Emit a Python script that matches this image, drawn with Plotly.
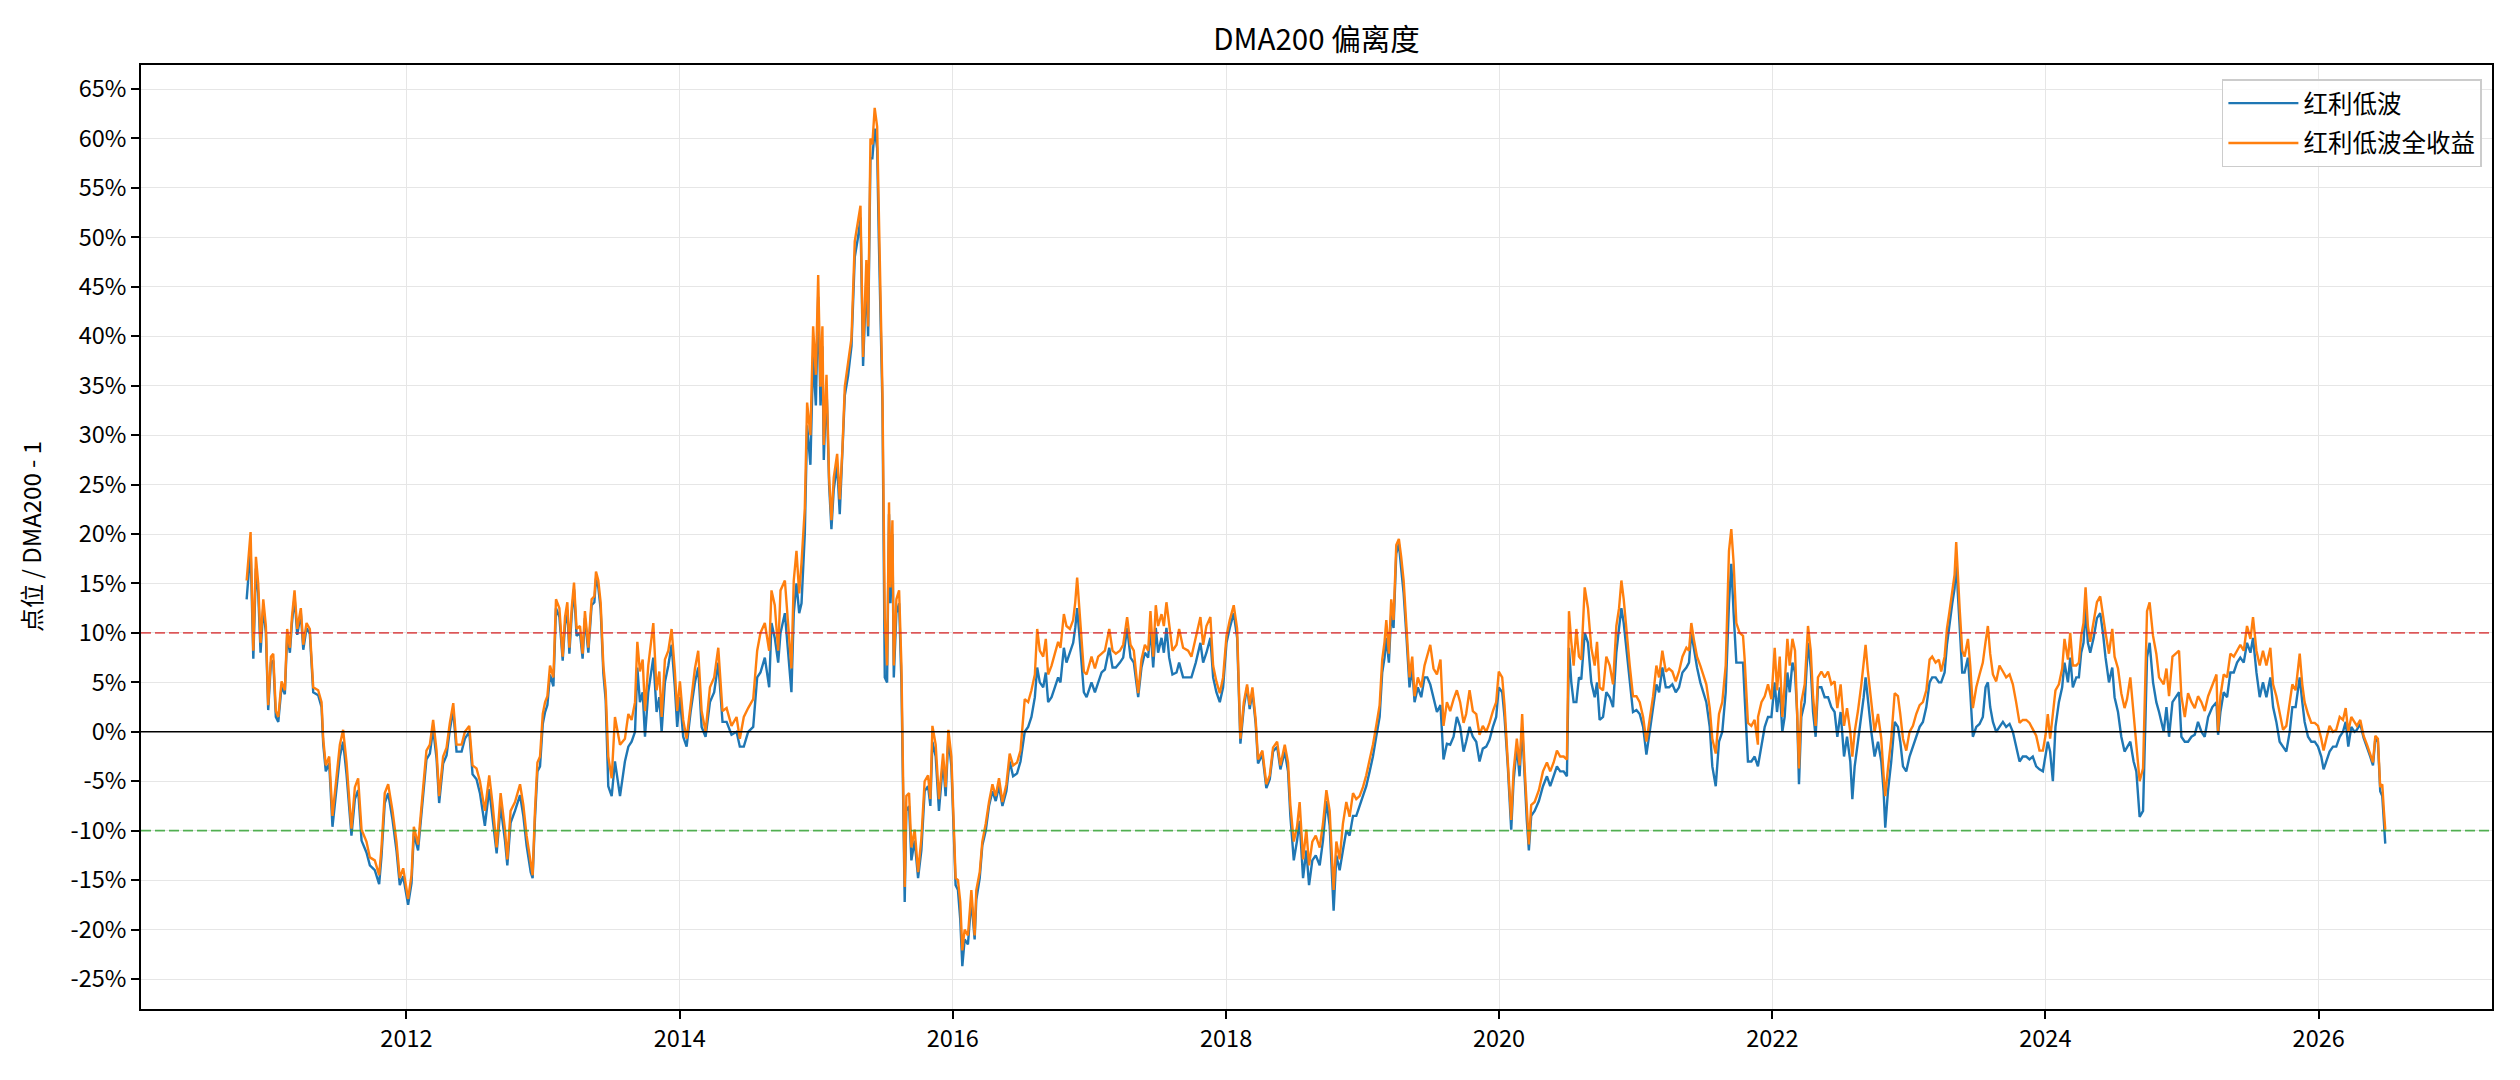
import pandas as pd
import plotly.graph_objects as go

# ---------------- data (decimal years, values in %) ----------------
# segment 2010-11 .. 2013-02
t_a = [2010.829, 2010.858, 2010.878, 2010.897, 2010.914, 2010.931, 2010.951, 2010.970, 2010.987, 2011.007,
       2011.024, 2011.043, 2011.061, 2011.085, 2011.109, 2011.126, 2011.146, 2011.161, 2011.180, 2011.200,
       2011.226, 2011.244, 2011.268, 2011.292, 2011.317, 2011.353, 2011.378, 2011.390, 2011.409, 2011.434,
       2011.458, 2011.488, 2011.512, 2011.536, 2011.561, 2011.597, 2011.622, 2011.646, 2011.671, 2011.707,
       2011.732, 2011.768, 2011.800, 2011.817, 2011.841, 2011.866, 2011.898, 2011.927, 2011.951, 2011.976,
       2012.012, 2012.037, 2012.054, 2012.085, 2012.117, 2012.146, 2012.171, 2012.195, 2012.220, 2012.239,
       2012.268, 2012.293, 2012.317, 2012.342, 2012.366, 2012.403, 2012.427, 2012.459, 2012.483, 2012.512,
       2012.537, 2012.573, 2012.605, 2012.630, 2012.659, 2012.688, 2012.720, 2012.737, 2012.761, 2012.793,
       2012.830, 2012.854, 2012.878, 2012.908, 2012.922, 2012.939, 2012.957, 2012.976, 2012.996, 2013.013,
       2013.030, 2013.049, 2013.074, 2013.093]
o_a = [15.3, 20.2, 8.2, 17.7, 15.0, 9.0, 13.4, 10.7, 2.7, 7.6,
       7.9, 2.1, 1.5, 5.1, 4.2, 10.4, 8.5, 11.6, 14.3, 10.4,
       12.5, 8.8, 11.0, 10.4, 4.5, 4.2, 3.0, -0.7, -3.4, -2.5,
       -8.5, -4.7, -1.3, 0.2, -3.1, -9.8, -5.6, -4.7, -9.9, -11.1,
       -12.7, -13.0, -14.5, -11.7, -6.2, -5.3, -8.0, -11.1, -14.8, -13.8,
       -16.9, -14.5, -9.6, -11.4, -6.5, -1.9, -1.3, 1.2, -1.9, -6.5,
       -2.5, -1.6, 0.9, 2.9, -1.3, -1.3, 0.0, 0.6, -3.4, -3.7,
       -5.0, -8.0, -4.4, -7.4, -11.7, -6.2, -9.9, -12.9, -8.0, -7.1,
       -5.3, -7.4, -10.5, -13.5, -14.5, -8.0, -3.1, -2.5, 1.8, 3.0,
       3.6, 6.7, 5.5, 13.4]
b_a = [13.4, 18.5, 7.4, 16.5, 14.0, 8.0, 12.6, 10.0, 2.2, 7.0,
       7.2, 1.5, 1.0, 4.6, 3.8, 9.8, 8.0, 11.0, 13.6, 9.8,
       12.0, 8.3, 10.5, 9.9, 4.0, 3.7, 2.5, -1.2, -4.0, -3.2,
       -9.6, -5.8, -2.5, -1.0, -4.3, -10.5, -6.8, -5.9, -11.0, -12.2,
       -13.5, -14.0, -15.4, -12.6, -7.2, -6.2, -8.9, -12.0, -15.5, -14.6,
       -17.5, -15.3, -10.3, -12.0, -7.2, -2.8, -2.2, 0.3, -2.7, -7.2,
       -3.2, -2.4, 0.2, 2.2, -2.0, -2.0, -0.7, 0.0, -4.3, -4.8,
       -6.2, -9.5, -5.8, -8.8, -12.3, -7.5, -11.0, -13.5, -9.2, -8.0,
       -6.4, -8.5, -11.5, -14.2, -14.8, -8.8, -4.0, -3.5, 0.8, 2.0,
       2.7, 5.8, 4.6, 12.5]

# segment 2013-02 .. 2015-12
t_b = [2013.118, 2013.142, 2013.159, 2013.176, 2013.191, 2013.208, 2013.225, 2013.244, 2013.269, 2013.288,
       2013.305, 2013.330, 2013.354, 2013.374, 2013.386, 2013.403, 2013.420, 2013.440, 2013.457, 2013.476,
       2013.501, 2013.525, 2013.562, 2013.598, 2013.623, 2013.647, 2013.672, 2013.689, 2013.708, 2013.728,
       2013.745, 2013.769, 2013.789, 2013.806, 2013.830, 2013.850, 2013.867, 2013.891, 2013.916, 2013.940,
       2013.964, 2013.981, 2014.001, 2014.025, 2014.050, 2014.079, 2014.111, 2014.135, 2014.160, 2014.189,
       2014.221, 2014.252, 2014.282, 2014.313, 2014.343, 2014.379, 2014.416, 2014.440, 2014.469, 2014.501,
       2014.538, 2014.567, 2014.591, 2014.623, 2014.655, 2014.672, 2014.696, 2014.721, 2014.738, 2014.770,
       2014.794, 2014.818, 2014.835, 2014.855, 2014.875, 2014.892, 2014.916, 2014.933, 2014.957, 2014.977,
       2014.997, 2015.014, 2015.031, 2015.045, 2015.055, 2015.075, 2015.094, 2015.111, 2015.128, 2015.153,
       2015.172, 2015.192, 2015.209, 2015.233, 2015.258, 2015.282, 2015.306, 2015.324, 2015.343, 2015.367,
       2015.380, 2015.397, 2015.411, 2015.428, 2015.446, 2015.458, 2015.470, 2015.485, 2015.502, 2015.519,
       2015.533, 2015.543, 2015.558, 2015.568, 2015.587, 2015.607, 2015.624, 2015.648, 2015.660, 2015.680,
       2015.697, 2015.721, 2015.746, 2015.770, 2015.794, 2015.819, 2015.836, 2015.851, 2015.875, 2015.899,
       2015.929, 2015.948, 2015.968, 2015.990]
o_b = [12.5, 7.6, 11.6, 13.1, 8.5, 12.5, 15.1, 10.4, 10.7, 7.9,
       12.2, 8.5, 13.4, 13.7, 16.2, 15.3, 13.1, 6.7, 4.2, -2.5,
       -4.7, 1.5, -1.3, -0.7, 1.8, 1.2, 3.0, 9.1, 6.1, 7.3,
       2.1, 6.7, 9.1, 11.0, 4.2, 6.1, 1.5, 7.3, 8.2, 10.4,
       6.1, 2.1, 5.1, 1.2, -0.7, 3.0, 6.4, 8.2, 2.1, 0.0,
       4.5, 5.5, 8.5, 2.1, 2.4, 0.6, 1.5, -0.7, 1.5, 2.4,
       3.3, 8.2, 10.0, 11.0, 8.2, 14.3, 12.8, 8.2, 14.3, 15.3,
       11.0, 6.4, 15.3, 18.3, 14.0, 17.1, 22.6, 33.3, 30.0, 41.0,
       36.1, 46.2, 34.9, 41.0, 29.0, 36.1, 25.7, 21.4, 25.7, 28.1,
       23.5, 28.7, 34.9, 37.3, 39.8, 49.6, 51.7, 53.2, 37.9, 47.7,
       41.0, 60.0, 59.4, 63.1, 61.2, 52.0, 44.7, 34.3, 11.6, 6.7,
       23.2, 14.6, 21.4, 6.7, 13.4, 14.3, 6.7, -15.7, -6.5, -6.2,
       -11.7, -9.9, -14.2, -10.8, -5.0, -4.4, -6.8, 0.6, -1.3, -6.8,
       -2.2, -5.6, 0.2, -2.5]
b_b = [11.6, 7.2, 10.8, 12.3, 7.9, 11.8, 14.4, 9.7, 10.0, 7.4,
       11.5, 8.0, 12.8, 13.1, 15.5, 14.6, 12.4, 5.9, 3.2, -5.5,
       -6.5, -3.0, -6.5, -3.0, -1.5, -1.0, 0.0, 6.5, 3.0, 4.0,
       -0.5, 4.0, 6.0, 7.5, 2.0, 3.5, 0.0, 5.0, 6.7, 8.8,
       4.5, 0.5, 3.5, -0.5, -1.5, 2.0, 5.0, 6.5, 0.5, -0.5,
       3.0, 4.0, 7.0, 1.0, 1.0, -0.3, 0.0, -1.5, -1.5, 0.0,
       0.5, 5.5, 6.0, 7.5, 4.5, 11.0, 9.5, 7.0, 10.0, 12.0,
       8.0, 4.0, 12.0, 15.0, 12.0, 13.0, 20.0, 31.0, 27.0, 38.0,
       33.0, 44.0, 33.0, 39.0, 27.5, 35.0, 25.0, 20.5, 24.5, 27.0,
       22.0, 28.0, 34.0, 36.0, 39.0, 48.0, 50.0, 52.0, 37.0, 46.0,
       40.0, 58.0, 58.0, 61.0, 59.0, 50.0, 43.0, 33.0, 5.5, 5.0,
       22.0, 13.0, 20.0, 5.5, 12.0, 13.0, 5.0, -17.2, -8.0, -7.5,
       -13.0, -11.0, -14.8, -12.0, -6.0, -5.5, -7.5, -1.0, -2.5, -8.0,
       -3.0, -6.5, -0.5, -3.5]

# segment 2016-01 .. 2018-10
t_c = [2016.021, 2016.038, 2016.055, 2016.070, 2016.087, 2016.111, 2016.136, 2016.160, 2016.172, 2016.197,
       2016.216, 2016.241, 2016.265, 2016.290, 2016.314, 2016.338, 2016.363, 2016.392, 2016.416, 2016.441,
       2016.470, 2016.495, 2016.526, 2016.551, 2016.575, 2016.600, 2016.617, 2016.636, 2016.661, 2016.680,
       2016.697, 2016.722, 2016.746, 2016.770, 2016.787, 2016.812, 2016.831, 2016.856, 2016.880, 2016.895,
       2016.909, 2016.924, 2016.941, 2016.958, 2016.978, 2016.997, 2017.014, 2017.039, 2017.063, 2017.088,
       2017.112, 2017.144, 2017.168, 2017.192, 2017.222, 2017.246, 2017.275, 2017.300, 2017.324, 2017.356,
       2017.380, 2017.405, 2017.429, 2017.446, 2017.466, 2017.485, 2017.502, 2017.527, 2017.544, 2017.563,
       2017.583, 2017.607, 2017.637, 2017.656, 2017.685, 2017.722, 2017.746, 2017.778, 2017.812, 2017.832,
       2017.856, 2017.885, 2017.905, 2017.929, 2017.954, 2017.978, 2018.003, 2018.027, 2018.056, 2018.081,
       2018.095, 2018.105, 2018.130, 2018.154, 2018.173, 2018.193, 2018.217, 2018.234, 2018.266, 2018.295,
       2018.320, 2018.344, 2018.374, 2018.398, 2018.430, 2018.454, 2018.471, 2018.496, 2018.520, 2018.539,
       2018.564, 2018.588, 2018.608, 2018.632, 2018.657, 2018.686, 2018.710, 2018.735, 2018.759, 2018.788,
       2018.808, 2018.832]
o_c = [-14.8, -15.0, -17.2, -22.1, -20.0, -20.6, -16.0, -20.6, -16.0, -14.2,
       -11.1, -9.3, -7.1, -5.3, -6.5, -4.7, -7.1, -5.3, -2.2, -3.4,
       -3.1, -1.9, 3.3, 3.0, 4.2, 5.8, 10.4, 8.2, 7.6, 9.4,
       5.8, 6.7, 7.9, 9.1, 8.5, 11.9, 10.7, 10.4, 11.3, 13.1,
       15.6, 12.5, 9.4, 6.1, 5.8, 6.7, 7.6, 6.4, 7.6, 7.9,
       8.2, 10.4, 8.2, 7.9, 8.2, 8.8, 11.6, 8.8, 8.2, 3.9,
       7.3, 8.8, 8.2, 12.2, 7.6, 12.8, 10.7, 11.9, 10.7, 13.1,
       10.7, 8.2, 8.8, 10.4, 8.5, 8.2, 7.6, 9.4, 11.6, 8.8,
       10.7, 11.6, 6.7, 5.1, 3.9, 5.5, 9.7, 11.3, 12.8, 10.4,
       3.0, -0.7, 3.0, 4.8, 2.7, 4.5, 1.2, -2.8, -1.9, -5.3,
       -4.4, -1.6, -1.0, -3.4, -1.3, -3.1, -7.4, -11.1, -9.6, -7.1,
       -12.9, -9.9, -13.5, -11.1, -10.5, -11.7, -9.3, -5.9, -8.0, -16.0,
       -11.1, -12.9]
b_c = [-15.5, -16.0, -19.0, -23.7, -21.0, -21.5, -17.0, -21.0, -17.0, -14.8,
       -11.5, -10.0, -7.5, -6.0, -7.0, -5.5, -7.5, -6.0, -3.0, -4.5,
       -4.2, -3.0, 0.0, 0.5, 1.5, 3.5, 6.5, 5.0, 4.5, 6.0,
       3.0, 3.5, 4.5, 5.5, 5.0, 8.5, 7.0, 8.0, 9.0, 10.5,
       12.5, 10.0, 7.0, 4.0, 3.5, 4.2, 5.0, 4.0, 5.0, 6.0,
       6.3, 8.5, 6.5, 6.5, 7.0, 7.5, 10.5, 7.5, 7.0, 3.5,
       6.5, 8.0, 7.5, 10.5, 6.5, 10.5, 8.0, 9.5, 8.0, 10.5,
       7.5, 5.8, 6.0, 7.0, 5.5, 5.5, 5.5, 7.0, 9.0, 7.0,
       8.0, 9.5, 5.5, 4.0, 3.0, 4.5, 9.0, 10.5, 12.0, 9.5,
       2.5, -1.2, 2.5, 4.5, 2.3, 4.0, 0.8, -3.2, -2.3, -5.7,
       -4.8, -2.0, -1.5, -3.8, -2.0, -4.0, -8.5, -13.0, -11.0, -9.0,
       -14.8, -12.0, -15.5, -13.0, -12.5, -13.5, -11.0, -7.0, -9.5, -18.1,
       -12.5, -14.0]

# segment 2018-11 .. 2021-11
t_d = [2018.856, 2018.881, 2018.905, 2018.930, 2018.954, 2018.978, 2019.003, 2019.027, 2019.052, 2019.076,
       2019.100, 2019.125, 2019.144, 2019.161, 2019.174, 2019.193, 2019.210, 2019.227, 2019.247, 2019.266,
       2019.283, 2019.301, 2019.320, 2019.344, 2019.364, 2019.381, 2019.405, 2019.430, 2019.454, 2019.474,
       2019.496, 2019.520, 2019.545, 2019.571, 2019.593, 2019.618, 2019.642, 2019.667, 2019.691, 2019.715,
       2019.740, 2019.759, 2019.784, 2019.808, 2019.833, 2019.857, 2019.881, 2019.906, 2019.930, 2019.955,
       2019.979, 2019.998, 2020.023, 2020.040, 2020.064, 2020.089, 2020.106, 2020.130, 2020.150, 2020.169,
       2020.186, 2020.203, 2020.218, 2020.235, 2020.260, 2020.291, 2020.321, 2020.350, 2020.374, 2020.399,
       2020.423, 2020.447, 2020.472, 2020.496, 2020.511, 2020.528, 2020.545, 2020.565, 2020.584, 2020.601,
       2020.626, 2020.650, 2020.674, 2020.699, 2020.716, 2020.735, 2020.760, 2020.784, 2020.809, 2020.833,
       2020.857, 2020.877, 2020.894, 2020.911, 2020.931, 2020.955, 2020.979, 2021.004, 2021.028, 2021.053,
       2021.077, 2021.101, 2021.126, 2021.150, 2021.170, 2021.194, 2021.219, 2021.243, 2021.267, 2021.292,
       2021.316, 2021.341, 2021.370, 2021.389, 2021.406, 2021.424, 2021.448, 2021.472, 2021.497, 2021.516,
       2021.541, 2021.560, 2021.585, 2021.609, 2021.633, 2021.658, 2021.682, 2021.699, 2021.716, 2021.736,
       2021.760, 2021.785, 2021.797, 2021.821, 2021.846, 2021.870, 2021.894]
o_d = [-9.3, -7.1, -8.6, -6.2, -6.8, -6.5, -5.6, -4.4, -2.8, -1.3,
       0.6, 2.7, 7.3, 9.1, 11.3, 7.9, 13.4, 11.3, 18.9, 19.5,
       17.7, 15.3, 11.0, 5.5, 7.6, 3.6, 5.5, 4.5, 6.7, 7.6,
       8.8, 6.4, 5.8, 7.3, 0.6, 3.0, 2.1, 3.3, 4.2, 3.0,
       0.9, 1.8, 4.2, 2.1, 1.8, -0.3, 0.6, 0.0, 0.9, 2.1,
       3.0, 6.1, 5.5, 2.7, -2.5, -8.9, -4.0, -0.7, -3.4, 1.8,
       -3.4, -7.4, -11.4, -7.4, -7.1, -5.9, -4.0, -3.1, -4.0, -3.1,
       -1.9, -2.5, -2.5, -2.8, 12.2, 9.1, 6.7, 10.4, 7.6, 7.3,
       14.6, 12.5, 8.5, 6.7, 9.1, 4.5, 4.2, 7.6, 6.7, 4.8,
       10.7, 12.5, 15.3, 13.4, 10.0, 6.7, 3.6, 3.6, 3.0, 1.5,
       -1.0, 1.2, 3.6, 6.7, 5.5, 8.2, 6.1, 6.4, 6.1, 5.1,
       6.1, 7.6, 8.5, 8.2, 11.0, 9.4, 7.6, 6.7, 5.5, 4.8,
       2.4, -0.7, -2.2, 1.8, 3.0, 6.7, 18.3, 20.5, 17.1, 11.0,
       10.0, 9.7, 7.3, 0.9, 0.6, 1.2, -1.3]
b_d = [-12.0, -10.0, -10.5, -8.5, -8.5, -7.5, -6.5, -5.5, -4.0, -2.5,
       -0.5, 1.5, 6.0, 7.5, 9.5, 7.0, 12.0, 10.5, 18.0, 19.0,
       16.5, 14.0, 10.0, 4.5, 6.5, 3.0, 4.5, 3.5, 5.5, 5.5,
       4.8, 3.5, 2.0, 2.7, -2.8, -1.2, -1.3, -0.5, 1.5, 0.5,
       -2.0, -1.0, 0.5, -0.5, -1.0, -3.0, -1.7, -1.5, -0.8, 0.5,
       1.5, 4.5, 4.0, 1.5, -3.5, -9.9, -5.0, -1.5, -4.5, 0.5,
       -4.5, -9.0, -12.0, -8.5, -8.0, -7.0, -5.5, -4.5, -5.5, -4.5,
       -3.5, -4.0, -4.0, -4.5, 8.5, 5.0, 3.0, 3.0, 5.5, 5.3,
       10.0, 9.0, 5.0, 3.5, 5.0, 1.2, 1.5, 4.0, 3.5, 2.5,
       8.0, 10.5, 12.5, 11.0, 8.5, 5.0, 2.0, 2.2, 1.8, 0.5,
       -2.3, 0.0, 2.5, 4.8, 4.0, 6.5, 4.5, 4.5, 4.8, 4.0,
       4.5, 6.0, 6.5, 7.0, 10.0, 8.5, 6.5, 5.0, 3.8, 3.0,
       0.5, -3.5, -5.5, -1.0, 0.0, 4.0, 13.0, 17.0, 12.0, 7.0,
       7.0, 7.0, 3.5, -3.0, -3.0, -2.5, -3.5]

# segment 2021-11 .. 2024-10
t_e = [2021.895, 2021.920, 2021.944, 2021.968, 2021.993, 2022.017, 2022.034, 2022.054, 2022.073, 2022.090,
       2022.110, 2022.127, 2022.147, 2022.166, 2022.181, 2022.195, 2022.212, 2022.237, 2022.261, 2022.281,
       2022.298, 2022.317, 2022.334, 2022.359, 2022.383, 2022.408, 2022.432, 2022.456, 2022.476, 2022.500,
       2022.525, 2022.547, 2022.571, 2022.586, 2022.603, 2022.627, 2022.652, 2022.669, 2022.683, 2022.700,
       2022.725, 2022.749, 2022.774, 2022.798, 2022.815, 2022.827, 2022.847, 2022.871, 2022.896, 2022.920,
       2022.937, 2022.957, 2022.981, 2023.005, 2023.030, 2023.054, 2023.079, 2023.103, 2023.128, 2023.152,
       2023.171, 2023.196, 2023.220, 2023.237, 2023.262, 2023.279, 2023.298, 2023.318, 2023.335, 2023.347,
       2023.359, 2023.372, 2023.391, 2023.408, 2023.433, 2023.450, 2023.469, 2023.494, 2023.518, 2023.542,
       2023.562, 2023.579, 2023.596, 2023.616, 2023.640, 2023.664, 2023.689, 2023.713, 2023.738, 2023.762,
       2023.786, 2023.811, 2023.835, 2023.860, 2023.884, 2023.908, 2023.933, 2023.957, 2023.982, 2024.001,
       2024.018, 2024.035, 2024.055, 2024.074, 2024.099, 2024.123, 2024.140, 2024.165, 2024.182, 2024.201,
       2024.226, 2024.245, 2024.262, 2024.279, 2024.294, 2024.311, 2024.328, 2024.353, 2024.377, 2024.401,
       2024.421, 2024.440, 2024.465, 2024.489, 2024.506, 2024.531, 2024.555, 2024.579, 2024.597, 2024.621,
       2024.645, 2024.665, 2024.689, 2024.714, 2024.733, 2024.743, 2024.762, 2024.787, 2024.811, 2024.831]
o_e = [1.5, 3.0, 3.6, 4.8, 3.3, 8.5, 4.2, 7.6, 1.5, 4.8,
       9.4, 6.7, 9.4, 8.2, 3.0, -3.7, 3.0, 4.8, 10.7, 8.2,
       3.6, 0.6, 5.5, 6.1, 5.5, 6.1, 4.8, 5.1, 2.4, 4.8,
       0.6, 2.4, 0.0, -2.5, 0.0, 2.1, 4.8, 6.7, 8.8, 6.1,
       3.0, 0.0, 1.8, -0.7, -4.4, -6.5, -3.7, -0.7, 3.9, 3.6,
       1.8, -0.7, -1.9, 0.0, 0.6, 1.8, 2.7, 3.0, 4.2, 7.3,
       7.6, 7.0, 7.3, 6.1, 7.6, 10.4, 12.2, 14.0, 15.9, 19.2,
       15.3, 12.5, 8.2, 7.6, 9.4, 6.7, 2.4, 4.5, 5.8, 7.0,
       9.1, 10.7, 7.9, 5.8, 5.1, 6.7, 6.1, 5.5, 5.8, 4.8,
       3.0, 0.9, 1.2, 1.2, 0.9, 0.2, -0.4, -1.9, -1.9, -0.4,
       1.8, -0.7, 1.5, 4.2, 4.8, 6.4, 9.4, 7.3, 10.0, 6.7,
       6.7, 7.0, 9.7, 11.0, 14.6, 10.7, 9.1, 11.0, 13.1, 13.7,
       11.6, 10.0, 7.9, 10.4, 7.6, 6.4, 3.9, 2.4, 3.3, 5.5,
       1.8, -1.0, -5.0, -3.7, 6.1, 12.2, 13.1, 9.7, 7.9, 5.5]
b_e = [-3.5, -1.5, 0.5, 1.5, 1.5, 5.0, 2.0, 4.5, 0.0, 1.5,
       6.0, 4.0, 7.0, 6.0, 2.0, -5.3, 1.5, 3.0, 9.0, 6.5,
       2.0, -0.5, 4.5, 4.5, 3.5, 3.5, 2.5, 2.0, -0.5, 2.0,
       -2.5, -0.5, -3.0, -6.8, -3.5, -1.0, 1.5, 3.5, 5.5, 3.0,
       0.0, -2.5, -1.0, -3.0, -6.0, -9.7, -6.0, -3.0, 1.0, 0.5,
       -1.0, -3.5, -4.0, -2.5, -1.5, -0.5, 0.5, 1.0, 2.5, 5.0,
       5.5, 5.5, 5.0, 5.0, 6.0, 8.8, 11.0, 13.0, 14.5, 17.5,
       14.0, 11.0, 6.0, 6.0, 7.5, 4.0, -0.5, 0.5, 0.8, 1.5,
       4.5, 5.0, 2.5, 1.0, 0.0, 0.5, 1.0, 0.5, 0.8, 0.0,
       -1.5, -3.0, -2.5, -2.5, -2.8, -2.5, -3.5, -3.8, -4.0, -2.5,
       -1.0, -2.0, -5.0, 0.5, 3.0, 4.5, 7.0, 5.0, 7.5, 4.5,
       5.5, 5.5, 8.0, 9.0, 12.5, 9.0, 8.0, 9.5, 11.5, 12.0,
       10.0, 7.5, 5.0, 6.5, 3.5, 2.0, -0.5, -2.0, -1.5, -1.0,
       -3.0, -4.0, -8.6, -8.0, 2.0, 7.5, 9.0, 5.0, 3.0, 2.0]

# segment 2024-11 .. 2026-06
t_f = [2024.865, 2024.885, 2024.904, 2024.929, 2024.953, 2024.977, 2024.994, 2025.019, 2025.043, 2025.068,
       2025.092, 2025.116, 2025.141, 2025.165, 2025.190, 2025.221, 2025.251, 2025.263, 2025.280, 2025.304,
       2025.329, 2025.353, 2025.378, 2025.402, 2025.426, 2025.451, 2025.475, 2025.500, 2025.519, 2025.544,
       2025.568, 2025.592, 2025.617, 2025.646, 2025.666, 2025.690, 2025.714, 2025.739, 2025.763, 2025.788,
       2025.807, 2025.831, 2025.861, 2025.880, 2025.897, 2025.922, 2025.946, 2025.971, 2025.995, 2026.019,
       2026.036, 2026.056, 2026.080, 2026.105, 2026.129, 2026.154, 2026.178, 2026.198, 2026.217, 2026.239,
       2026.263, 2026.280, 2026.305, 2026.329, 2026.354, 2026.378, 2026.398, 2026.415, 2026.434, 2026.451,
       2026.466, 2026.478, 2026.488]
o_f = [4.8, 6.4, 3.6, 7.6, 7.9, 8.2, 3.6, 1.5, 3.9, 3.0,
       2.4, 3.6, 3.0, 2.1, 3.6, 4.8, 5.8, 0.0, 3.6, 5.8,
       5.5, 7.9, 7.6, 8.2, 8.8, 8.2, 10.7, 9.4, 11.6, 8.2,
       6.7, 8.2, 6.7, 8.5, 4.8, 3.6, 1.8, 0.2, 0.6, 3.0,
       4.8, 4.2, 7.9, 4.8, 3.0, 1.8, 0.9, 0.9, 0.6, -0.7,
       -1.9, -0.7, 0.6, 0.0, 0.2, 1.5, 1.2, 2.4, 0.0, 1.5,
       0.9, 0.6, 1.2, -0.4, -1.3, -2.2, -3.1, -0.4, -0.7, -5.6,
       -5.3, -8.0, -9.9]
b_f = [0.0, 2.5, -0.5, 3.0, 3.5, 4.0, -0.5, -1.0, -1.0, -0.5,
       -0.3, 1.0, 0.0, -0.5, 1.5, 2.5, 3.0, -0.3, 2.0, 4.0,
       3.5, 6.0, 6.0, 7.0, 7.5, 7.0, 9.0, 8.0, 9.5, 6.0,
       3.5, 5.0, 3.5, 5.5, 2.5, 1.0, -1.0, -1.5, -2.0, 0.0,
       2.5, 2.5, 5.5, 3.0, 1.0, -0.5, -1.0, -1.0, -1.5, -2.5,
       -3.8, -3.0, -2.0, -1.5, -1.5, -0.5, 0.0, 1.0, -1.5, 0.5,
       0.0, 0.2, 0.8, -0.6, -1.5, -2.5, -3.4, -0.7, -1.0, -6.0,
       -6.5, -9.5, -11.3]

year_dec = t_a + t_b + t_c + t_d + t_e + t_f
hongli_tr = o_a + o_b + o_c + o_d + o_e + o_f      # 红利低波全收益
hongli = b_a + b_b + b_c + b_d + b_e + b_f         # 红利低波
assert len(year_dec) == len(hongli_tr) == len(hongli)

upper_line = 10
lower_line = -10
y_ticks = list(range(-25, 70, 5))
tick_years = list(range(2012, 2028, 2))


def to_date(y):
    yr = int(y)
    start = pd.Timestamp(year=yr, month=1, day=1)
    end = pd.Timestamp(year=yr + 1, month=1, day=1)
    return start + (end - start) * (y - yr)


dates = [to_date(v) for v in year_dec]

FONT = "Noto Sans CJK SC"

fig = go.Figure()
fig.add_trace(go.Scatter(x=dates, y=hongli, mode="lines", name="红利低波",
                         legendgroup="g1",
                         line=dict(color="#1f77b4", width=2.4)))
fig.add_trace(go.Scatter(x=dates, y=hongli_tr, mode="lines", name="红利低波全收益",
                         legendgroup="g2",
                         line=dict(color="#ff7f0e", width=2.4)))

fig.add_hline(y=0, line=dict(color="black", width=1.6), layer="above")
fig.add_hline(y=upper_line, line=dict(color="rgba(214,39,40,0.75)", width=1.8, dash="10px,4px"), layer="above")
fig.add_hline(y=lower_line, line=dict(color="rgba(44,160,44,0.8)", width=1.8, dash="10px,4px"), layer="above")

fig.update_layout(
    width=2520, height=1080,
    margin=dict(l=141, r=28, t=65, b=71),
    paper_bgcolor="white", plot_bgcolor="white",
    font=dict(family=FONT, size=23, color="black"),
    title=dict(text="DMA200 偏离度", x=0.5, xref="paper", xanchor="center",
               y=1 - 40 / 1080, yref="container", yanchor="middle",
               font=dict(family=FONT, size=29.5, color="black")),
    showlegend=True,
    legend=dict(x=0.9957, y=0.985, xanchor="right", yanchor="top",
                bgcolor="rgba(255,255,255,0.85)", bordercolor="#cccccc", borderwidth=1.5,
                font=dict(family=FONT, size=24.5, color="black"),
                itemwidth=70, tracegroupgap=5),
    hovermode=False,
)

fig.update_xaxes(
    type="date",
    range=[to_date(2010.055), to_date(2027.27)],
    tickmode="array",
    tickvals=[pd.Timestamp(year=y, month=1, day=1) for y in tick_years],
    ticktext=[str(y) for y in tick_years],
    showgrid=True, gridcolor="#e6e6e6", gridwidth=1.3,
    showline=True, linecolor="black", linewidth=1.8, mirror=True,
    ticks="outside", ticklen=8, tickwidth=1.6, tickcolor="black",
    tickfont=dict(family=FONT, size=23.5, color="black"),
    zeroline=False,
)
fig.update_yaxes(
    range=[-28.03, 67.43],
    tickmode="array",
    tickvals=y_ticks,
    ticktext=[f"{v}%" for v in y_ticks],
    showgrid=True, gridcolor="#e6e6e6", gridwidth=1.3,
    showline=True, linecolor="black", linewidth=1.8, mirror=True,
    ticks="outside", ticklen=8, tickwidth=1.6, tickcolor="black",
    tickfont=dict(family=FONT, size=23.5, color="black"),
    zeroline=False,
)

fig.add_annotation(text="点位 / DMA200 - 1", textangle=-90,
                   xref="paper", yref="paper", x=(38 - 141) / 2351, y=0.5,
                   xanchor="center", yanchor="middle", showarrow=False, xshift=-8,
                   font=dict(family=FONT, size=24, color="black"))

fig.write_html("out.html", config={"displayModeBar": False})
